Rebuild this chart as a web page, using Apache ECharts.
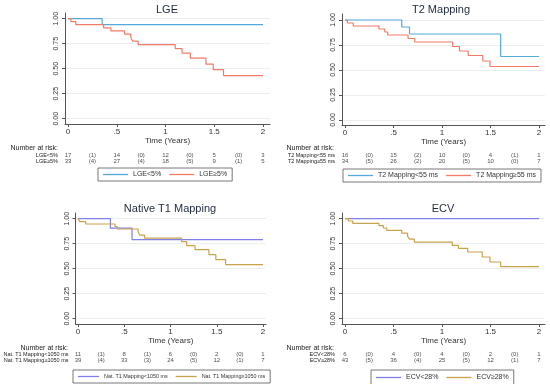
<!DOCTYPE html>
<html><head><meta charset="utf-8">
<script src="https://cdn.jsdelivr.net/npm/echarts@6/dist/echarts.min.js"></script>
<style>html,body{margin:0;padding:0;background:#fff}#c{width:550px;height:384px}</style>
</head><body><div id="c"></div>
<script>
// ---------- data ----------
const xTicks = [0, 0.5, 1, 1.5, 2];
const xTickLabels = ['0', '.5', '1', '1.5', '2'];
const yTicks = [0, 0.25, 0.5, 0.75, 1];
const yTickLabels = ['0.00', '0.25', '0.50', '0.75', '1.00'];
const riskTimes = [0, 0.5, 1, 1.5, 2];

const panelTitles = ['LGE', 'T2 Mapping', 'Native T1 Mapping', 'ECV'];
const groupNames = [
  ['LGE<5%', 'LGE≥5%'],
  ['T2 Mapping<55 ms', 'T2 Mapping≥55 ms'],
  ['Nat. T1 Mapping<1050 ms', 'Nat. T1 Mapping≥1050 ms'],
  ['ECV<28%', 'ECV≥28%']
];

// Kaplan-Meier step points (time in years, survival)
const lgeLowT  = [0, 0.35, 2];
const lgeLowS  = [1, 0.941, 0.941];
const lgeHighT = [0, 0.03, 0.08, 0.365, 0.44, 0.58, 0.645, 0.665, 0.72, 1.10, 1.17, 1.255, 1.415, 1.49, 1.595, 2];
const lgeHighS = [1, 0.97, 0.94, 0.909, 0.878, 0.845, 0.81, 0.775, 0.74, 0.70, 0.655, 0.605, 0.545, 0.49, 0.43, 0.43];

const t2LowT  = [0, 0.585, 0.665, 1.605, 2];
const t2LowS  = [1, 0.93, 0.86, 0.635, 0.635];
const t2HighT = [0, 0.025, 0.085, 0.35, 0.41, 0.44, 0.65, 0.72, 1.11, 1.18, 1.27, 1.42, 1.495, 2];
const t2HighS = [1, 0.97, 0.94, 0.91, 0.88, 0.85, 0.815, 0.78, 0.735, 0.69, 0.645, 0.59, 0.535, 0.535];

const t1LowT  = [0, 0.35, 0.584, 2];
const t1LowS  = [1, 0.905, 0.79, 0.79];
const t1HighT = [0, 0.02, 0.083, 0.40, 0.425, 0.65, 0.67, 0.72, 1.12, 1.175, 1.265, 1.415, 1.49, 1.595, 2];
const t1HighS = [1, 0.97, 0.947, 0.92, 0.897, 0.865, 0.835, 0.805, 0.77, 0.73, 0.69, 0.64, 0.59, 0.54, 0.54];

const ecvLowT  = [0, 2];
const ecvLowS  = [1, 1];
const ecvHighT = [0, 0.035, 0.08, 0.35, 0.395, 0.43, 0.585, 0.645, 0.665, 0.715, 1.106, 1.17, 1.265, 1.415, 1.495, 1.605, 2];
const ecvHighS = [1, 0.977, 0.953, 0.93, 0.907, 0.884, 0.855, 0.825, 0.795, 0.765, 0.733, 0.703, 0.667, 0.617, 0.567, 0.52, 0.52];

// Number at risk and events (in parentheses) between time points
const lgeLowRisk  = [17, 14, 12, 5, 3];   const lgeLowEv  = [1, 0, 0, 0];
const lgeHighRisk = [33, 27, 18, 9, 5];   const lgeHighEv = [4, 4, 5, 1];
const t2LowRisk   = [16, 15, 10, 4, 1];   const t2LowEv   = [0, 2, 0, 1];
const t2HighRisk  = [34, 26, 20, 10, 7];  const t2HighEv  = [5, 2, 5, 0];
const t1LowRisk   = [11, 8, 6, 2, 1];     const t1LowEv   = [1, 1, 0, 0];
const t1HighRisk  = [39, 33, 24, 12, 7];  const t1HighEv  = [4, 3, 5, 1];
const ecvLowRisk  = [6, 4, 4, 2, 1];      const ecvLowEv  = [0, 0, 0, 0];
const ecvHighRisk = [43, 36, 25, 12, 7];  const ecvHighEv = [5, 4, 5, 1];

const curves = [
  [[lgeLowT, lgeLowS], [lgeHighT, lgeHighS]],
  [[t2LowT, t2LowS], [t2HighT, t2HighS]],
  [[t1LowT, t1LowS], [t1HighT, t1HighS]],
  [[ecvLowT, ecvLowS], [ecvHighT, ecvHighS]]
];
const risks = [
  [[lgeLowRisk, lgeLowEv], [lgeHighRisk, lgeHighEv]],
  [[t2LowRisk, t2LowEv], [t2HighRisk, t2HighEv]],
  [[t1LowRisk, t1LowEv], [t1HighRisk, t1HighEv]],
  [[ecvLowRisk, ecvLowEv], [ecvHighRisk, ecvHighEv]]
];

// ---------- layout / style ----------
const FONT = 'Liberation Sans, Arial, sans-serif';
const colors = [['#55a9dc', '#f27b68'], ['#55a9dc', '#f27b68'], ['#7f7fe6', '#c9a349'], ['#7f7fe6', '#c9a349']];
const L = [
  {grid:{left:65, top:13, width:205, height:111}, xr:[-0.031, 2.072], yr:[-0.053, 1.057], risk:{left:65, top:152, width:205, height:12}, title:[167, 9.5], nar:[58, 145], legend:{left:98, top:168, width:160}, lfs:7, iw:25, gap:8, pad:[3, 5, 3, 5]},
  {grid:{left:342, top:14, width:203, height:111}, xr:[-0.031, 2.062], yr:[-0.05, 1.06], risk:{left:342, top:152, width:203, height:12}, title:[441, 10], nar:[334, 145], legend:{left:343, top:169, width:206}, lfs:7, iw:25, gap:8, pad:[3, 5, 3, 5]},
  {grid:{left:75.5, top:213, width:190.5, height:111}, xr:[-0.027, 2.032], yr:[-0.053, 1.057], risk:{left:75.5, top:351.5, width:190.5, height:12}, title:[170, 209], nar:[68, 344.5], legend:{left:73, top:370, width:220}, lfs:5.4, iw:21, gap:8, pad:[4, 5, 4, 5]},
  {grid:{left:342, top:213, width:203, height:111}, xr:[-0.031, 2.062], yr:[-0.053, 1.057], risk:{left:342, top:351.5, width:203, height:12}, title:[443, 209], nar:[334, 344.5], legend:{left:371, top:370, width:170}, lfs:7, iw:25, gap:8, pad:[4, 5, 4, 5]}
];

const grid = [], xAxis = [], yAxis = [], series = [], legend = [], graphic = [];
L.forEach((p, i) => {
  grid.push(Object.assign({containLabel:false}, p.grid));
  xAxis.push({
    type:'value', gridIndex:i, min:p.xr[0], max:p.xr[1],
    name:'Time (Years)', nameLocation:'middle', nameGap:13,
    nameTextStyle:{fontFamily:FONT, fontSize:8, color:'#333'},
    axisLine:{show:true, onZero:false, lineStyle:{color:'#555', width:1}},
    axisTick:{show:true, length:3, customValues:xTicks, lineStyle:{color:'#555'}},
    axisLabel:{customValues:xTicks, margin:4, fontFamily:FONT, fontSize:8, color:'#333',
      formatter:v => { const k = xTicks.indexOf(v); return k >= 0 ? xTickLabels[k] : ''; }},
    splitLine:{show:false}
  });
  yAxis.push({
    type:'value', gridIndex:i, min:p.yr[0], max:p.yr[1],
    axisLine:{show:true, onZero:false, lineStyle:{color:'#555', width:1}},
    axisTick:{show:true, length:3, customValues:yTicks, lineStyle:{color:'#555'}},
    axisLabel:{customValues:yTicks, rotate:90, margin:5, fontFamily:FONT, fontSize:7, color:'#333',
      formatter:v => { const k = yTicks.indexOf(v); return k >= 0 ? yTickLabels[k] : ''; }},
    splitLine:{show:true, lineStyle:{color:'#eaeff2', width:1}}
  });
  curves[i].forEach((c, g) => {
    series.push({
      name:groupNames[i][g], type:'line', step:'end', xAxisIndex:i, yAxisIndex:i,
      symbol:'none', silent:true, animation:false,
      lineStyle:{color:colors[i][g], width:1.2}, itemStyle:{color:colors[i][g]},
      data:c[0].map((t, k) => [t, c[1][k]])
    });
  });
  legend.push(Object.assign({
    data:groupNames[i], orient:'horizontal', icon:'rect', itemWidth:p.iw, itemHeight:1.3, itemGap:p.gap,
    padding:p.pad, borderColor:'#555', borderWidth:0.8, borderRadius:0,
    textStyle:{fontFamily:FONT, fontSize:p.lfs, color:'#333'}, selectedMode:false
  }, p.legend));
  graphic.push({type:'text', x:p.title[0], y:p.title[1],
    style:{text:panelTitles[i], font:'11px ' + FONT, fill:'#1f2a3c', textAlign:'center', textVerticalAlign:'middle'}});
  graphic.push({type:'text', right:550 - p.nar[0], top:p.nar[1],
    style:{text:'Number at risk:', font:'7px ' + FONT, fill:'#222'}});
});
// risk tables
L.forEach((p, i) => {
  const gi = 4 + i;
  grid.push(Object.assign({containLabel:false}, p.risk));
  xAxis.push({type:'value', gridIndex:gi, min:p.xr[0], max:p.xr[1], show:false});
  yAxis.push({type:'category', gridIndex:gi, inverse:true, data:groupNames[i],
    axisLine:{show:false}, axisTick:{show:false}, splitLine:{show:false},
    axisLabel:{interval:0, margin:7, fontFamily:FONT, fontSize:5.5, color:'#222'}});
  const data = [];
  risks[i].forEach((r, row) => {
    r[0].forEach((n, k) => data.push([riskTimes[k], row, String(n)]));
    r[1].forEach((e, k) => data.push([(riskTimes[k] + riskTimes[k + 1]) / 2, row, '(' + e + ')']));
  });
  series.push({
    name:'risk' + i, type:'scatter', xAxisIndex:gi, yAxisIndex:gi, symbolSize:1,
    itemStyle:{color:'rgba(0,0,0,0)'}, silent:true, animation:false,
    label:{show:true, position:'inside', formatter:q => q.value[2], fontFamily:FONT, fontSize:6, color:'#222'},
    data
  });
});

const chart = echarts.init(document.getElementById('c'), null, {renderer:'canvas'});
chart.setOption({backgroundColor:'#fff', animation:false, grid, xAxis, yAxis, series, legend, graphic});
</script></body></html>
